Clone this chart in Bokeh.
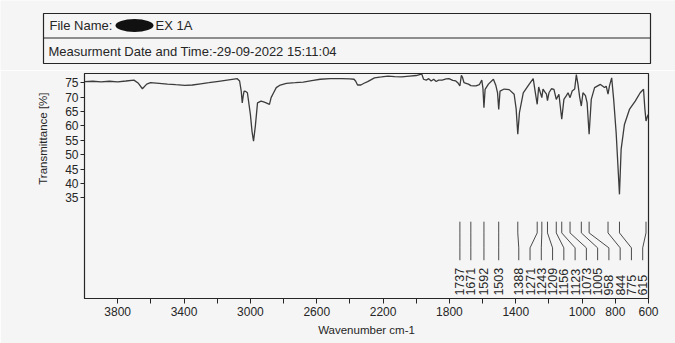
import numpy as np
from bokeh.plotting import figure
from bokeh.models import Range1d, FixedTicker, Title
from bokeh.layouts import column
from bokeh.embed import file_html
from bokeh.resources import INLINE
from bokeh.core.properties import value

# ---------------- data ----------------
wavenumber = [4000, 3950, 3900, 3850, 3800, 3750, 3702, 3675, 3651, 3625, 3602, 3550, 3500, 3450,
              3395, 3350, 3300, 3250, 3191, 3130, 3079, 3065, 3055, 3049, 3043, 3038, 3030, 3018,
              3000, 2990, 2981, 2970, 2957, 2936, 2920, 2905, 2885, 2875, 2860, 2844, 2820, 2783,
              2730, 2681, 2630, 2579, 2518, 2450, 2400, 2375, 2365, 2354, 2334, 2315, 2293, 2252,
              2210, 2170, 2130, 2089, 2040, 2000, 1975, 1966, 1956, 1940, 1925, 1910, 1895, 1880,
              1865, 1844, 1820, 1803, 1780, 1762, 1750, 1737, 1728, 1722, 1712, 1700, 1685, 1671,
              1655, 1640, 1620, 1605, 1598, 1592, 1585, 1565, 1535, 1520, 1510, 1503, 1495, 1470,
              1440, 1410, 1398, 1388, 1378, 1355, 1320, 1295, 1282, 1271, 1262, 1255, 1243, 1236,
              1225, 1215, 1209, 1200, 1185, 1170, 1156, 1140, 1123, 1110, 1095, 1085, 1073, 1060,
              1045, 1035, 1025, 1015, 1005, 995, 980, 970, 958, 945, 925, 890, 865, 855, 844, 835,
              822, 810, 795, 775, 765, 745, 715, 680, 650, 630, 622, 615, 605, 600]
transmittance = [75.4, 75.5, 75.3, 75.5, 75.3, 75.6, 75.9, 74.8, 72.9, 74.5, 75.0, 74.8, 74.5, 74.3,
                 74.1, 74.2, 74.6, 75.0, 75.5, 76.0, 76.4, 75.6, 72.0, 68.0, 70.5, 72.1, 72.0, 71.5,
                 64.0, 58.0, 54.7, 60.0, 68.0, 68.6, 68.3, 68.0, 67.5, 69.8, 71.5, 73.3, 74.2, 74.8,
                 75.0, 75.2, 75.7, 76.2, 76.4, 76.4, 76.3, 76.2, 75.5, 74.2, 74.2, 74.8, 75.4, 76.7,
                 77.0, 77.3, 77.1, 77.0, 77.3, 77.5, 77.9, 77.9, 76.2, 75.9, 76.4, 75.6, 76.2, 75.4,
                 75.9, 75.9, 76.3, 76.4, 75.8, 75.6, 75.0, 73.9, 77.6, 77.0, 75.0, 74.8, 74.5, 74.0,
                 73.9, 73.9, 74.3, 75.9, 73.0, 66.3, 72.7, 74.5, 76.2, 74.0, 71.5, 65.7, 72.1, 72.8,
                 72.6, 71.0, 66.0, 57.1, 64.6, 71.5, 74.4, 76.4, 71.5, 67.5, 73.5, 72.1, 69.8, 72.8,
                 71.8, 71.0, 68.8, 71.5, 72.9, 72.7, 69.2, 71.0, 62.3, 69.2, 70.5, 71.5, 69.8, 72.1,
                 72.8, 77.8, 74.4, 70.0, 66.9, 71.5, 70.5, 68.0, 57.1, 69.2, 73.3, 74.4, 73.3, 73.8,
                 71.0, 74.0, 76.7, 69.2, 57.6, 36.2, 51.8, 60.5, 65.7, 68.6, 71.5, 72.7, 66.0, 61.7,
                 63.5, 64.0]

peak_wavenumbers = [1737, 1671, 1592, 1503, 1388, 1271, 1243, 1209, 1156, 1123, 1073, 1005,
                    958, 844, 775, 615]

x_ticks = [3800, 3600, 3400, 3200, 3000, 2800, 2600, 2400, 2200, 2000, 1800, 1600, 1400,
           1200, 1000, 800, 600]
x_tick_labels = ["3800", "", "3400", "", "3000", "", "2600", "", "2200", "", "1800", "",
                 "1400", "", "1000", "800", "600"]
y_ticks = [35, 40, 45, 50, 55, 60, 65, 70, 75]

file_name_label = "File Name:"
file_name_suffix = "EX 1A"
measurement_text = "Measurment Date and Time:-29-09-2022 15:11:04"
x_title = "Wavenumber cm-1"
y_title = "Transmittance [%]"

# ---------------- style / layout ----------------
BG = "#f5f5f5"
INK = "#262626"
FONT = value("Liberation Sans")
W, H = 675, 343
HDR_H = 70
X0, X1 = 4000, 600
BORDER_L, BORDER_R = 84, 27

# ---------------- header ----------------
hdr = figure(width=W, height=HDR_H, x_range=Range1d(0, W), y_range=Range1d(HDR_H, 0),
             toolbar_location=None, output_backend="svg",
             x_axis_location=None, y_axis_location=None, min_border=0)
hdr.min_border_left = hdr.min_border_right = hdr.min_border_top = hdr.min_border_bottom = 0
hdr.frame_align = False
hdr.grid.visible = False
hdr.outline_line_color = None
hdr.background_fill_color = BG
hdr.border_fill_color = BG
hdr.quad(left=[43], right=[650], top=[13], bottom=[63], fill_color=None,
         line_color=INK, line_width=1.2)
hdr.segment(x0=[43], y0=[37.5], x1=[650], y1=[37.5], line_color=INK, line_width=1.2)
hdr.ellipse(x=[134], y=[25], width=[38], height=[13], fill_color="#111111", line_color=None)
hdr.text(x=[49, 155, 48], y=[25, 25, 51],
         text=[file_name_label, file_name_suffix, measurement_text],
         text_font=FONT, text_font_size="13px", text_color=INK,
         text_baseline="middle", text_align="left")

# ---------------- main plot ----------------
p = figure(width=W, height=H - HDR_H, x_range=Range1d(X0, X1), y_range=Range1d(0, 78.2),
           toolbar_location=None, output_backend="svg",
           min_border_left=BORDER_L, min_border_right=BORDER_R,
           min_border_top=3, min_border_bottom=45)
p.frame_align = False
p.background_fill_color = BG
p.border_fill_color = BG
p.grid.visible = False
p.outline_line_color = INK
p.outline_line_width = 1.2

p.line(wavenumber, transmittance, line_color="#3c3c3c", line_width=1.3)

# peak markers with connectors (crowded labels spread evenly, kept inside the frame)
pk = np.array(peak_wavenumbers, dtype=float)
lx = pk.copy()
crowd = pk <= 1388
lx[crowd] = np.linspace(pk[crowd].max() - 6, pk[crowd].min() + 20, crowd.sum())
y_top, y_b1, y_b2, y_bot, y_txt = 26.7, 22.8, 17.6, 13.3, 1.0
xs = [[a, a, b, b] for a, b in zip(pk, lx)]
ys = [[y_top, y_b1, y_b2, y_bot] for _ in pk]
p.multi_line(xs, ys, line_color="#4a4a4a", line_width=1)
p.text(x=list(lx), y=[y_txt] * len(lx), text=[str(v) for v in peak_wavenumbers],
       angle=np.pi / 2, text_align="left", text_baseline="middle",
       text_font=FONT, text_font_size="12.5px", text_color=INK)

# axes
xa = p.xaxis[0]
xa.ticker = FixedTicker(ticks=x_ticks)
xa.major_label_overrides = {t: s for t, s in zip(x_ticks, x_tick_labels)}
xa.minor_tick_line_color = None
xa.major_tick_out = 5
xa.major_tick_in = 0
xa.major_label_standoff = 3
xa.axis_label = x_title
xa.axis_label_standoff = 5

ya = p.yaxis[0]
ya.ticker = FixedTicker(ticks=y_ticks)
ya.minor_tick_line_color = None
ya.major_tick_out = 4
ya.major_tick_in = 0
ya.major_label_standoff = 2

for ax in (xa, ya):
    ax.axis_line_color = INK
    ax.major_tick_line_color = INK
    ax.major_label_text_font = "Liberation Sans"
    ax.major_label_text_font_size = "12px"
    ax.major_label_text_color = INK
    ax.axis_label_text_font = "Liberation Sans"
    ax.axis_label_text_font_size = "11.5px"
    ax.axis_label_text_font_style = "normal"
    ax.axis_label_text_color = INK

# y title placed beside the labelled part of the axis
ytitle = Title(text=y_title, align="right", offset=19, standoff=26, vertical_align="middle",
               text_font="Liberation Sans", text_font_size="11.5px",
               text_font_style="normal", text_color=INK)
p.add_layout(ytitle, "left")

layout = column(hdr, p, spacing=0)
open("out.html", "w").write(file_html(layout, INLINE))
